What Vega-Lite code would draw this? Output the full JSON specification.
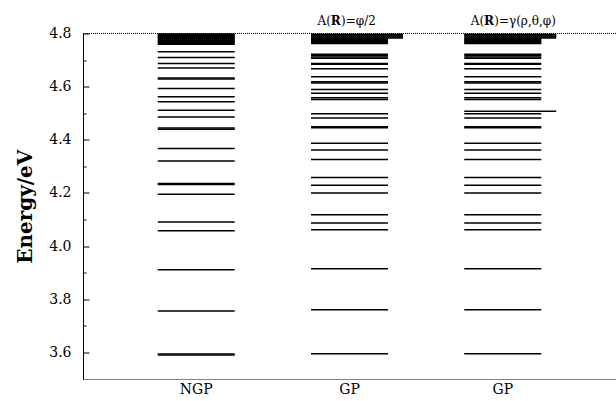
{
  "$schema": "https://vega.github.io/schema/vega-lite/v6.json",
  "width": 533,
  "height": 345.5,
  "autosize": {"type": "none"},
  "padding": {"left": 83, "top": 33.5, "right": 0, "bottom": 22},
  "config": {
    "view": {"stroke": null},
    "font": "DejaVu Serif",
    "axis": {"labelFont": "DejaVu Serif", "titleFont": "DejaVu Serif", "labelColor": "black", "titleColor": "black", "domainColor": "black", "tickColor": "black", "grid": false}
  },
  "datasets": {
    "levels": [
      {"col": "NGP", "E": 4.7600, "kind": "level"}, {"col": "NGP", "E": 4.7635, "kind": "level"}, {"col": "NGP", "E": 4.7670, "kind": "level"}, {"col": "NGP", "E": 4.7705, "kind": "level"},
      {"col": "NGP", "E": 4.7740, "kind": "level"}, {"col": "NGP", "E": 4.7775, "kind": "level"}, {"col": "NGP", "E": 4.7810, "kind": "level"}, {"col": "NGP", "E": 4.7845, "kind": "level"},
      {"col": "NGP", "E": 4.7880, "kind": "level"}, {"col": "NGP", "E": 4.7915, "kind": "level"}, {"col": "NGP", "E": 4.7950, "kind": "level"}, {"col": "NGP", "E": 4.7985, "kind": "level"},
      {"col": "NGP", "E": 4.731, "kind": "level"}, {"col": "NGP", "E": 4.710, "kind": "level"}, {"col": "NGP", "E": 4.687, "kind": "level"}, {"col": "NGP", "E": 4.670, "kind": "level"},
      {"col": "NGP", "E": 4.633, "kind": "level"}, {"col": "NGP", "E": 4.629, "kind": "level"}, {"col": "NGP", "E": 4.593, "kind": "level"}, {"col": "NGP", "E": 4.562, "kind": "level"},
      {"col": "NGP", "E": 4.543, "kind": "level"}, {"col": "NGP", "E": 4.511, "kind": "level"}, {"col": "NGP", "E": 4.486, "kind": "level"}, {"col": "NGP", "E": 4.444, "kind": "level"},
      {"col": "NGP", "E": 4.440, "kind": "level"}, {"col": "NGP", "E": 4.367, "kind": "level"}, {"col": "NGP", "E": 4.320, "kind": "level"}, {"col": "NGP", "E": 4.236, "kind": "level"},
      {"col": "NGP", "E": 4.232, "kind": "level"}, {"col": "NGP", "E": 4.195, "kind": "level"}, {"col": "NGP", "E": 4.091, "kind": "level"}, {"col": "NGP", "E": 4.058, "kind": "level"},
      {"col": "NGP", "E": 3.911, "kind": "level"}, {"col": "NGP", "E": 3.756, "kind": "level"}, {"col": "NGP", "E": 3.594, "kind": "level"}, {"col": "NGP", "E": 3.590, "kind": "level"},

      {"col": "GP1", "E": 4.7625, "kind": "level"}, {"col": "GP1", "E": 4.7660, "kind": "level"}, {"col": "GP1", "E": 4.7695, "kind": "level"}, {"col": "GP1", "E": 4.7730, "kind": "level"},
      {"col": "GP1", "E": 4.7765, "kind": "level"}, {"col": "GP1", "E": 4.7800, "kind": "level"},
      {"col": "GP1", "E": 4.7835, "kind": "extended"}, {"col": "GP1", "E": 4.7870, "kind": "extended"}, {"col": "GP1", "E": 4.7905, "kind": "extended"}, {"col": "GP1", "E": 4.7940, "kind": "extended"}, {"col": "GP1", "E": 4.7975, "kind": "extended"},
      {"col": "GP1", "E": 4.722, "kind": "level"}, {"col": "GP1", "E": 4.717, "kind": "level"}, {"col": "GP1", "E": 4.712, "kind": "level"}, {"col": "GP1", "E": 4.707, "kind": "level"},
      {"col": "GP1", "E": 4.687, "kind": "level"}, {"col": "GP1", "E": 4.684, "kind": "level"}, {"col": "GP1", "E": 4.667, "kind": "level"}, {"col": "GP1", "E": 4.637, "kind": "level"},
      {"col": "GP1", "E": 4.618, "kind": "level"}, {"col": "GP1", "E": 4.614, "kind": "level"}, {"col": "GP1", "E": 4.589, "kind": "level"}, {"col": "GP1", "E": 4.575, "kind": "level"},
      {"col": "GP1", "E": 4.558, "kind": "level"}, {"col": "GP1", "E": 4.552, "kind": "level"}, {"col": "GP1", "E": 4.498, "kind": "level"}, {"col": "GP1", "E": 4.482, "kind": "level"},
      {"col": "GP1", "E": 4.449, "kind": "level"}, {"col": "GP1", "E": 4.445, "kind": "level"}, {"col": "GP1", "E": 4.387, "kind": "level"}, {"col": "GP1", "E": 4.362, "kind": "level"},
      {"col": "GP1", "E": 4.326, "kind": "level"}, {"col": "GP1", "E": 4.258, "kind": "level"}, {"col": "GP1", "E": 4.229, "kind": "level"}, {"col": "GP1", "E": 4.200, "kind": "level"},
      {"col": "GP1", "E": 4.118, "kind": "level"}, {"col": "GP1", "E": 4.087, "kind": "level"}, {"col": "GP1", "E": 4.062, "kind": "level"}, {"col": "GP1", "E": 3.915, "kind": "level"},
      {"col": "GP1", "E": 3.761, "kind": "level"}, {"col": "GP1", "E": 3.595, "kind": "level"},

      {"col": "GP2", "E": 4.7625, "kind": "level"}, {"col": "GP2", "E": 4.7660, "kind": "level"}, {"col": "GP2", "E": 4.7695, "kind": "level"}, {"col": "GP2", "E": 4.7730, "kind": "level"},
      {"col": "GP2", "E": 4.7765, "kind": "level"}, {"col": "GP2", "E": 4.7800, "kind": "level"},
      {"col": "GP2", "E": 4.7835, "kind": "extended"}, {"col": "GP2", "E": 4.7870, "kind": "extended"}, {"col": "GP2", "E": 4.7905, "kind": "extended"}, {"col": "GP2", "E": 4.7940, "kind": "extended"}, {"col": "GP2", "E": 4.7975, "kind": "extended"},
      {"col": "GP2", "E": 4.722, "kind": "level"}, {"col": "GP2", "E": 4.717, "kind": "level"}, {"col": "GP2", "E": 4.712, "kind": "level"}, {"col": "GP2", "E": 4.707, "kind": "level"},
      {"col": "GP2", "E": 4.687, "kind": "level"}, {"col": "GP2", "E": 4.684, "kind": "level"}, {"col": "GP2", "E": 4.667, "kind": "level"}, {"col": "GP2", "E": 4.637, "kind": "level"},
      {"col": "GP2", "E": 4.618, "kind": "level"}, {"col": "GP2", "E": 4.614, "kind": "level"}, {"col": "GP2", "E": 4.589, "kind": "level"}, {"col": "GP2", "E": 4.575, "kind": "level"},
      {"col": "GP2", "E": 4.558, "kind": "level"}, {"col": "GP2", "E": 4.552, "kind": "level"}, {"col": "GP2", "E": 4.507, "kind": "extended"}, {"col": "GP2", "E": 4.498, "kind": "level"}, {"col": "GP2", "E": 4.482, "kind": "level"},
      {"col": "GP2", "E": 4.449, "kind": "level"}, {"col": "GP2", "E": 4.445, "kind": "level"}, {"col": "GP2", "E": 4.387, "kind": "level"}, {"col": "GP2", "E": 4.362, "kind": "level"},
      {"col": "GP2", "E": 4.326, "kind": "level"}, {"col": "GP2", "E": 4.258, "kind": "level"}, {"col": "GP2", "E": 4.229, "kind": "level"}, {"col": "GP2", "E": 4.200, "kind": "level"},
      {"col": "GP2", "E": 4.118, "kind": "level"}, {"col": "GP2", "E": 4.087, "kind": "level"}, {"col": "GP2", "E": 4.062, "kind": "level"}, {"col": "GP2", "E": 3.915, "kind": "level"},
      {"col": "GP2", "E": 3.761, "kind": "level"}, {"col": "GP2", "E": 3.595, "kind": "level"}
    ],
    "notes": [
      {"col": "GP1", "pre": "A(", "r": "R", "post": ")=φ/2"},
      {"col": "GP2", "pre": "A(", "r": "R", "post": ")=γ(ρ,θ,φ)"}
    ]
  },
  "layer": [
    {
      "data": {"name": "levels"},
      "transform": [{"filter": "datum.kind === 'level'"}],
      "mark": {"type": "tick", "size": 77, "thickness": 1.5, "color": "black", "opacity": 1},
      "encoding": {
        "x": {
          "field": "col", "type": "nominal",
          "scale": {"type": "band", "domain": ["NGP", "GP1", "GP2"], "paddingInner": 0, "paddingOuter": 0.239},
          "axis": {"orient": "bottom", "title": null, "ticks": false, "labelAngle": 0, "labelFontSize": 14, "labelPadding": 3, "labelExpr": "datum.value === 'NGP' ? 'NGP' : 'GP'", "domainDash": [1, 1], "domainWidth": 1}
        },
        "y": {
          "field": "E", "type": "quantitative",
          "scale": {"domain": [3.5, 4.8], "nice": false, "zero": false},
          "axis": {"orient": "left", "values": [3.6, 3.7, 3.8, 3.9, 4.0, 4.1, 4.2, 4.3, 4.4, 4.5, 4.6, 4.7, 4.8], "labelExpr": "(round(datum.value*10) % 2 == 0) ? format(datum.value, '.1f') : ''", "tickSize": {"condition": {"test": "round(datum.value*10) % 2 == 0", "value": -6}, "value": -3}, "labelPadding": 18, "labelFontSize": 14, "title": "Energy/eV", "titleFontSize": 20, "titleFontWeight": "bold", "titlePadding": 13, "domainWidth": 1}
        }
      }
    },
    {
      "data": {"name": "levels"},
      "transform": [{"filter": "datum.kind === 'extended'"}],
      "mark": {"type": "tick", "size": 92, "thickness": 1.5, "xOffset": 7.5, "color": "black", "opacity": 1},
      "encoding": {
        "x": {
          "field": "col", "type": "nominal",
          "axis": {"orient": "bottom", "title": null, "ticks": false, "labelAngle": 0, "labelFontSize": 14, "labelPadding": 3, "labelExpr": "datum.value === 'NGP' ? 'NGP' : 'GP'", "domainDash": [1, 1], "domainWidth": 1}
        },
        "y": {
          "field": "E", "type": "quantitative",
          "axis": {"orient": "left", "values": [3.6, 3.7, 3.8, 3.9, 4.0, 4.1, 4.2, 4.3, 4.4, 4.5, 4.6, 4.7, 4.8], "labelExpr": "(round(datum.value*10) % 2 == 0) ? format(datum.value, '.1f') : ''", "tickSize": {"condition": {"test": "round(datum.value*10) % 2 == 0", "value": -6}, "value": -3}, "labelPadding": 18, "labelFontSize": 14, "title": "Energy/eV", "titleFontSize": 20, "titleFontWeight": "bold", "titlePadding": 13, "domainWidth": 1}
        }
      }
    },
    {
      "data": {"values": [{}]},
      "mark": {"type": "rule", "color": "black", "strokeDash": [1, 1], "strokeWidth": 1},
      "encoding": {
        "y": {
          "datum": 4.8, "type": "quantitative",
          "axis": {"orient": "left", "values": [3.6, 3.7, 3.8, 3.9, 4.0, 4.1, 4.2, 4.3, 4.4, 4.5, 4.6, 4.7, 4.8], "labelExpr": "(round(datum.value*10) % 2 == 0) ? format(datum.value, '.1f') : ''", "tickSize": {"condition": {"test": "round(datum.value*10) % 2 == 0", "value": -6}, "value": -3}, "labelPadding": 18, "labelFontSize": 14, "title": "Energy/eV", "titleFontSize": 20, "titleFontWeight": "bold", "titlePadding": 13, "domainWidth": 1}
        }
      }
    },
    {
      "data": {"name": "notes"},
      "layer": [
        {"mark": {"type": "text", "align": "left", "baseline": "alphabetic", "dx": -32, "dy": -9, "fontSize": 12, "font": "DejaVu Serif", "color": "black"}, "encoding": {"text": {"field": "pre"}}},
        {"mark": {"type": "text", "align": "left", "baseline": "alphabetic", "dx": -18.7, "dy": -9, "fontSize": 12, "fontWeight": "bold", "font": "DejaVu Serif", "color": "black"}, "encoding": {"text": {"field": "r"}}},
        {"mark": {"type": "text", "align": "left", "baseline": "alphabetic", "dx": -8.5, "dy": -9, "fontSize": 12, "font": "DejaVu Serif", "color": "black"}, "encoding": {"text": {"field": "post"}}}
      ],
      "encoding": {
        "x": {
          "field": "col", "type": "nominal",
          "axis": {"orient": "bottom", "title": null, "ticks": false, "labelAngle": 0, "labelFontSize": 14, "labelPadding": 3, "labelExpr": "datum.value === 'NGP' ? 'NGP' : 'GP'", "domainDash": [1, 1], "domainWidth": 1}
        },
        "y": {
          "datum": 4.8, "type": "quantitative",
          "axis": {"orient": "left", "values": [3.6, 3.7, 3.8, 3.9, 4.0, 4.1, 4.2, 4.3, 4.4, 4.5, 4.6, 4.7, 4.8], "labelExpr": "(round(datum.value*10) % 2 == 0) ? format(datum.value, '.1f') : ''", "tickSize": {"condition": {"test": "round(datum.value*10) % 2 == 0", "value": -6}, "value": -3}, "labelPadding": 18, "labelFontSize": 14, "title": "Energy/eV", "titleFontSize": 20, "titleFontWeight": "bold", "titlePadding": 13, "domainWidth": 1}
        }
      }
    }
  ]
}
